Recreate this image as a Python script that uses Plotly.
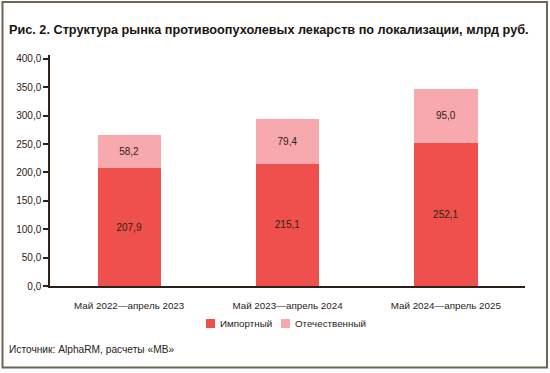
import plotly.graph_objects as go

categories = ["Май 2022—апрель 2023", "Май 2023—апрель 2024", "Май 2024—апрель 2025"]
imported = [207.9, 215.1, 252.1]
domestic = [58.2, 79.4, 95.0]
tick_vals = [0, 50, 100, 150, 200, 250, 300, 350, 400]
series_names = ["Импортный", "Отечественный"]
series_colors = ["#f0504b", "#f8a9ae"]

W, H = 550, 373
L, R, T, B = 50, 25, 55, 87
pw, ph = W - L - R, H - T - B

def px(x):
    return (x - L) / pw

def py(y):
    return (H - B - y) / ph

font = "Liberation Sans, Arial, sans-serif"
txt = "#2b2118"

fig = go.Figure()
for name, vals, col in zip(series_names, [imported, domestic], series_colors):
    fig.add_trace(go.Bar(
        x=categories, y=vals, name=name,
        marker=dict(color=col, line=dict(width=0)),
        text=[f"{v:.1f}".replace(".", ",") for v in vals],
        textposition="inside", insidetextanchor="middle",
        textfont=dict(color=txt, size=10, family=font),
        showlegend=False,
    ))

fig.update_layout(
    width=W, height=H,
    margin=dict(l=L, r=R, t=T, b=B),
    barmode="stack", bargap=0.6,
    separators=", ",
    plot_bgcolor="white", paper_bgcolor="white",
    font=dict(family=font, size=10, color=txt),
    uniformtext=dict(mode="show", minsize=10),
)
fig.update_xaxes(
    showline=True, linecolor="#2b2118", linewidth=1.5,
    ticks="", showgrid=False, tickfont=dict(size=9.8, color=txt),
    ticklabelstandoff=9,
)
fig.update_yaxes(
    range=[0, 407], tickvals=tick_vals, tickformat=".1f",
    showline=True, linecolor="#2b2118", linewidth=1.5,
    ticks="outside", ticklen=5, tickcolor="#2b2118", tickwidth=1.5,
    showgrid=False, zeroline=False, tickfont=dict(size=10, color=txt),
)

# manual legend
legend_items = [(206, 218), (281, 293)]
for (mx, tx), name, col in zip(legend_items, series_names, series_colors):
    fig.add_shape(type="rect", xref="paper", yref="paper",
                  x0=px(mx), x1=px(mx + 9), y0=py(319), y1=py(328),
                  line=dict(width=0), fillcolor=col)
    fig.add_annotation(text=name, xref="paper", yref="paper", x=px(tx), y=py(323.5),
                       xanchor="left", yanchor="middle", showarrow=False,
                       font=dict(size=9.8, color=txt, family=font))

fig.add_annotation(
    text="<b>Рис. 2. Структура рынка противоопухолевых лекарств по локализации, млрд руб.</b>",
    xref="paper", yref="paper", x=px(7), y=py(30), xanchor="left", yanchor="middle",
    showarrow=False, font=dict(size=12.7, color="#1a1410", family=font),
)
fig.add_annotation(
    text="Источник: AlphaRM, расчеты «МВ»",
    xref="paper", yref="paper", x=px(7), y=py(349), xanchor="left", yanchor="middle",
    showarrow=False, font=dict(size=10.2, color=txt, family=font),
)
fig.add_shape(
    type="rect", xref="paper", yref="paper",
    x0=px(2.5), x1=px(547), y0=py(2), y1=py(367.5),
    line=dict(color="#6e6557", width=2), fillcolor="rgba(0,0,0,0)", layer="above",
)

fig.write_html("out.html", config={"displayModeBar": False},
               post_script="document.body.style.margin='0';document.body.style.overflow='hidden';")
